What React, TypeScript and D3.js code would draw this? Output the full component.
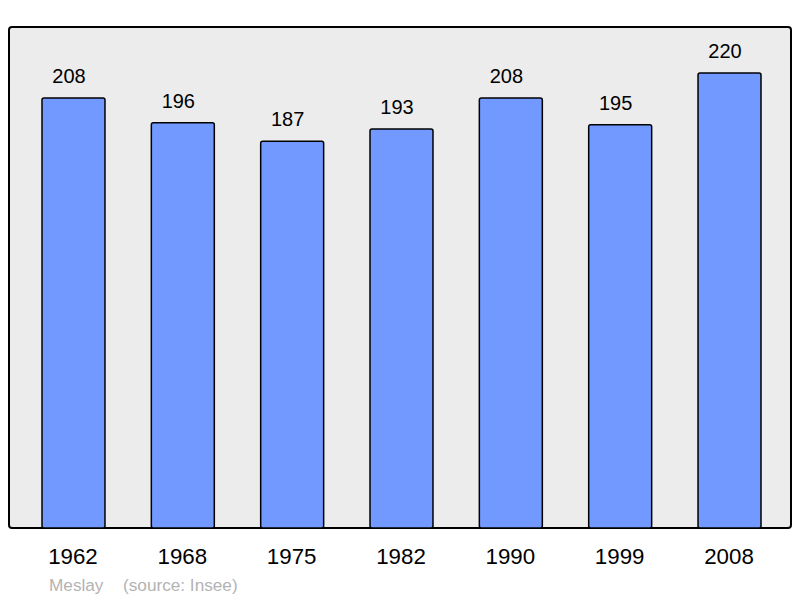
import React from 'react';
import * as d3 from 'd3';

const years = ['1962', '1968', '1975', '1982', '1990', '1999', '2008'];
const population = [208, 196, 187, 193, 208, 195, 220];
const commune = 'Meslay';
const source = '(source: Insee)';

const width = 800;
const height = 598;
const panel = { left: 9, top: 27, right: 791, bottom: 528 };

export default function App() {
  const x = d3.scaleBand<string>()
    .domain(years)
    .range([42, 761])
    .paddingInner(0.424)
    .paddingOuter(0);

  const y = d3.scaleLinear()
    .domain([0, 242.3])
    .range([panel.bottom, panel.top]);

  return (
    <svg width={width} height={height}
      style={{ position: 'absolute', left: 0, top: 0, fontFamily: '"Liberation Sans", Arial, sans-serif' }}>
      <rect x={panel.left} y={panel.top} width={panel.right - panel.left} height={panel.bottom - panel.top}
        rx={3} fill="#ececec" stroke="#000" strokeWidth={2} />
      {years.map((yr, i) => (
        <g key={yr}>
          <rect x={x(yr)} y={y(population[i])} width={x.bandwidth()} height={panel.bottom - y(population[i])}
            rx={2} fill="#7299ff" stroke="#000" strokeWidth={1.5} />
          <text x={(x(yr) ?? 0) + x.bandwidth() / 2 - 4.5} y={y(population[i]) - 15} textAnchor="middle"
            fontSize={20} fill="#000">{population[i]}</text>
          <text x={(x(yr) ?? 0) + x.bandwidth() / 2 - 0.5} y={564} textAnchor="middle"
            fontSize={22.3} fill="#000">{yr}</text>
        </g>
      ))}
      <text x={49} y={591} fontSize={17.2} fill="#b3b3b3">{commune}</text>
      <text x={123} y={591} fontSize={17.2} fill="#b3b3b3">{source}</text>
    </svg>
  );
}
